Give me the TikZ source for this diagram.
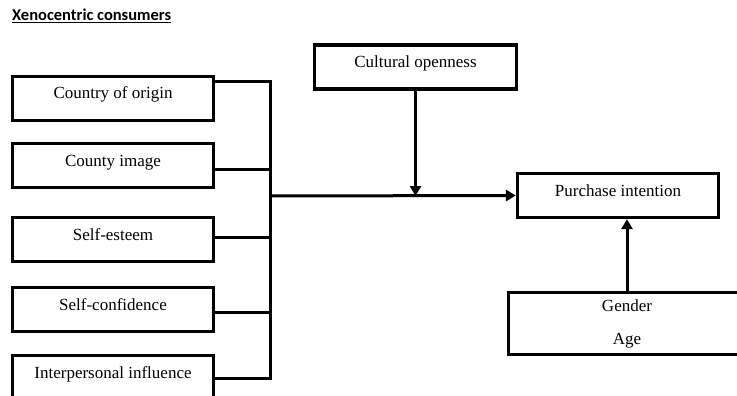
\documentclass[tikz,border=0pt]{standalone}
\usepackage{fontspec}
\setmainfont{Liberation Serif}
\newfontfamily\titlefont{Carlito}
\usetikzlibrary{arrows.meta}

\newlength{\du}
\setlength{\du}{1pt}

\tikzset{
  factorbox/.style={draw, line width=3.2\du, inner sep=0pt, minimum width=201\du,
    text height=22.5\du, text depth=21.5\du, font=\fontsize{17}{20}\selectfont},
  link/.style={line width=3\du},
  arrowlink/.style={link, -{Triangle[length=10pt,width=11pt]}}
}

\begin{document}
\begin{tikzpicture}
\pgftransformxscale{1.000000}
\pgftransformyscale{-1.000000}
\useasboundingbox (0\du,0\du) rectangle (737\du,396\du);
\clip (0\du,0\du) rectangle (737\du,396\du);
% title
\node[anchor=base west, inner sep=0pt, font=\titlefont\bfseries\fontsize{16.5}{19}\selectfont] (title) at (12\du,21\du){\underline{Xenocentric consumers}};
% antecedents
\node[factorbox] (origin) at (113\du,98.5\du){Country of origin};
\node[factorbox] (image) at (113\du,165.5\du){County image};
\node[factorbox] (esteem) at (113\du,239.5\du){Self-esteem};
\node[factorbox] (confidence) at (113\du,309.5\du){Self-confidence};
\node[factorbox] (influence) at (113\du,377.5\du){Interpersonal influence};
% moderator and outcome
\node[factorbox, minimum width=202\du] (openness) at (415.5\du,67\du){Cultural openness};
\node[factorbox] (purchase) at (618\du,195.5\du){Purchase intention};
\node[draw, line width=3.2\du, inner sep=0pt, minimum width=237\du, minimum height=62\du,
  align=center, font=\fontsize{17}{33}\selectfont] (control) at (627\du,323.5\du){Gender\\Age};
% bracket
\coordinate (bracket top) at (270\du,82\du);
\coordinate (bracket bottom) at (270\du,378\du);
\draw[link] ([yshift=-16.5\du]origin.east) -- (bracket top) -- (bracket bottom) -- (influence.east |- bracket bottom);
\draw[link] ([yshift=4\du]image.east) -- ++(55\du,0);
\draw[link] ([yshift=-2.5\du]esteem.east) -- ++(55\du,0);
\draw[link] ([yshift=2.5\du]confidence.east) -- ++(55\du,0);
% paths
\coordinate (joint) at (270\du,196\du);
\draw[arrowlink] (joint) -- (purchase.west);
\draw[arrowlink] (openness.south) -- (openness.south |- joint);
\draw[arrowlink] (control.north) -- (control.north |- purchase.south);
\end{tikzpicture}
\end{document}
